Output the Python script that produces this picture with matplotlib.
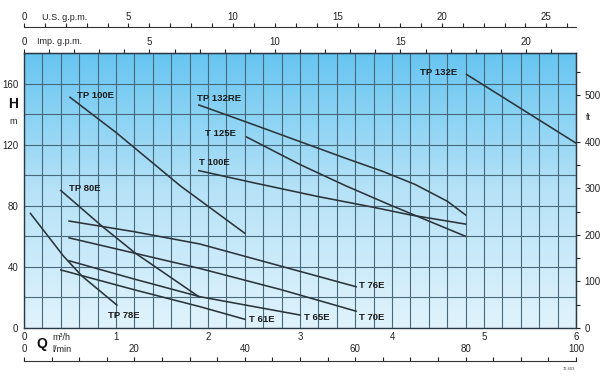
import numpy as np
import matplotlib
matplotlib.use('Agg')
import matplotlib.pyplot as plt
from matplotlib.colors import LinearSegmentedColormap

plt.rcParams['font.family'] = ['Liberation Sans', 'DejaVu Sans']

# ---- data: Q in m3/h, H in m ----
tp78e_q = [0.07, 0.43, 0.63, 1.01]
tp78e_h = [75, 47, 34, 15]
tp80e_q = [0.40, 0.86, 1.21, 1.90]
tp80e_h = [90, 66, 49, 20.5]
tp100e_q = [0.50, 1.00, 1.70, 2.40]
tp100e_h = [151, 128, 93, 62]
t61e_q = [0.40, 1.20, 1.91, 2.40]
t61e_h = [38, 25, 14, 5.7]
t65e_q = [0.49, 1.20, 1.91, 3.00]
t65e_h = [44, 32, 20.5, 8.5]
t70e_q = [0.49, 1.20, 1.91, 2.80, 3.61]
t70e_h = [59, 49, 39, 25, 11]
t76e_q = [0.49, 1.20, 1.91, 2.70, 3.61]
t76e_h = [70, 63, 55, 42, 27]
t100e_q = [1.90, 2.50, 3.20, 3.80, 4.20, 4.80]
t100e_h = [103, 95, 86, 79, 74, 68]
t125e_q = [2.42, 3.00, 3.50, 4.00, 4.80]
t125e_h = [125, 107, 93, 80, 60]
tp132re_q = [1.90, 2.50, 3.00, 3.50, 3.90, 4.25, 4.60, 4.80]
tp132re_h = [146, 133, 122, 111, 102.5, 94, 83, 74]
tp132e_q = [4.81, 6.00]
tp132e_h = [166, 121]

curve_names = ['TP 78E', 'TP 80E', 'TP 100E', 'T 61E', 'T 65E', 'T 70E', 'T 76E',
               'T 100E', 'T 125E', 'TP 132RE', 'TP 132E']
label_q = [0.91, 0.49, 0.58, 2.45, 3.04, 3.64, 3.64, 1.90, 1.97, 1.88, 4.30]
label_h = [8, 91, 152, 5.7, 7, 7, 27.5, 108, 127.5, 150.5, 167.5]

h_ticks = [0, 40, 80, 120, 160]
ft_ticks = [0, 100, 200, 300, 400, 500]
q_ticks = [0, 1, 2, 3, 4, 5, 6]
lmin_ticks = [0, 20, 40, 60, 80, 100]
imp_ticks = [0, 5, 10, 15, 20]
us_ticks = [0, 5, 10, 15, 20, 25]

curves = [(tp78e_q, tp78e_h), (tp80e_q, tp80e_h), (tp100e_q, tp100e_h),
          (t61e_q, t61e_h), (t65e_q, t65e_h), (t70e_q, t70e_h), (t76e_q, t76e_h),
          (t100e_q, t100e_h), (t125e_q, t125e_h), (tp132re_q, tp132re_h),
          (tp132e_q, tp132e_h)]

W, Hpx = 614, 383
fig = plt.figure(figsize=(W / 100, Hpx / 100), dpi=100)
fig.patch.set_facecolor('white')
L, R, T, B = 24, 576, 53, 328
ax = fig.add_axes([L / W, 1 - B / Hpx, (R - L) / W, (B - T) / Hpx])
ax.set_xlim(0, 6)
ax.set_ylim(0, 180)

cmap = LinearSegmentedColormap.from_list('bg', ['#e0f3fc', '#b6e2f7', '#66c5f1'])
grad = np.linspace(1, 0, 256).reshape(-1, 1)
ax.imshow(grad, extent=[0, 6, 0, 180], aspect='auto', cmap=cmap, origin='upper',
          zorder=0, interpolation='bilinear')

ax.set_xticks(q_ticks)
ax.set_xticks(np.arange(0, 6.01, 0.2), minor=True)
ax.set_yticks(h_ticks)
ax.set_yticks(np.arange(0, 180.1, 20), minor=True)
ax.grid(which='both', color='#46697b', lw=0.8, zorder=1)
ax.tick_params(which='both', length=0, labelsize=7, colors='#222222')
ax.tick_params(axis='x', pad=3)
ax.tick_params(axis='y', pad=4)
for s in ax.spines.values():
    s.set_color('#2a3a44')
    s.set_linewidth(1.0)

for (q, h) in curves:
    ax.plot(q, h, color='#2b353b', lw=1.15, zorder=3)
for name, lq, lh in zip(curve_names, label_q, label_h):
    ax.text(lq, lh, name, fontsize=6.8, fontweight='bold', color='#1a1a1a',
            va='center', ha='left', zorder=4)

# right ft axis
M2FT = 3.28084
sec = ax.secondary_yaxis('right', functions=(lambda m: m * M2FT, lambda f: f / M2FT))
sec.set_yticks(ft_ticks)
sec.set_yticks([50, 150, 250, 350, 550], minor=True)
sec.tick_params(which='both', length=3, width=0.8, direction='out', labelsize=7,
                pad=3, colors='#222222')
sec.spines['right'].set_color('#2a3a44')

# top imp gpm axis
IMP = 3.6662
top1 = ax.secondary_xaxis('top', functions=(lambda q: q * IMP, lambda g: g / IMP))
top1.set_xticks(imp_ticks)
top1.set_xticks(np.arange(0, 22.1, 1), minor=True)
top1.tick_params(which='both', length=3, width=0.8, direction='out', labelsize=7,
                 pad=1.5, colors='#222222')

# top US gpm axis
US = 4.4029
top2 = ax.secondary_xaxis((B - 27) / (B - T), functions=(lambda q: q * US, lambda g: g / US))
top2.set_xticks(us_ticks)
top2.set_xticks(np.arange(0, 26.1, 1), minor=True)
top2.tick_params(which='both', length=3, width=0.8, direction='out', labelsize=7,
                 pad=0.5, colors='#222222')
top2.spines['top'].set_color('#333333')

# bottom l/min axis
LM = 16.6667
bot = ax.secondary_xaxis(-(361 - B) / (B - T), functions=(lambda q: q * LM, lambda l: l / LM))
bot.set_alignment('top')
bot.set_xticks(lmin_ticks)
bot.set_xticks(np.arange(0, 100.1, 5), minor=True)
bot.tick_params(which='both', length=3, width=0.8, direction='out', labelsize=7,
                pad=2, colors='#222222')
bot.spines['top'].set_color('#333333')

def ft(x, y, s, **kw):
    fig.text(x / W, 1 - y / Hpx, s, **kw)

ft(42, 17, 'U.S. g.p.m.', fontsize=6.5, va='center', ha='left', color='#222222')
ft(37, 41, 'Imp. g.p.m.', fontsize=6.5, va='center', ha='left', color='#222222')
ft(13, 104, 'H', fontsize=10, fontweight='bold', va='center', ha='center', color='#111111')
ft(13, 121, 'm', fontsize=6.5, va='center', ha='center', color='#222222')
ft(42, 344, 'Q', fontsize=10, fontweight='bold', va='center', ha='center', color='#111111')
ft(52, 338, 'm³/h', fontsize=6.5, va='center', ha='left', color='#222222')
ft(52, 349, 'l/min', fontsize=6.5, va='center', ha='left', color='#222222')
ft(586, 118, 'ft', fontsize=6.5, va='center', ha='left', color='#222222')
ft(569, 369, '72.603', fontsize=3, va='center', ha='center', color='#444444')

fig.savefig('out.png', dpi=100)
